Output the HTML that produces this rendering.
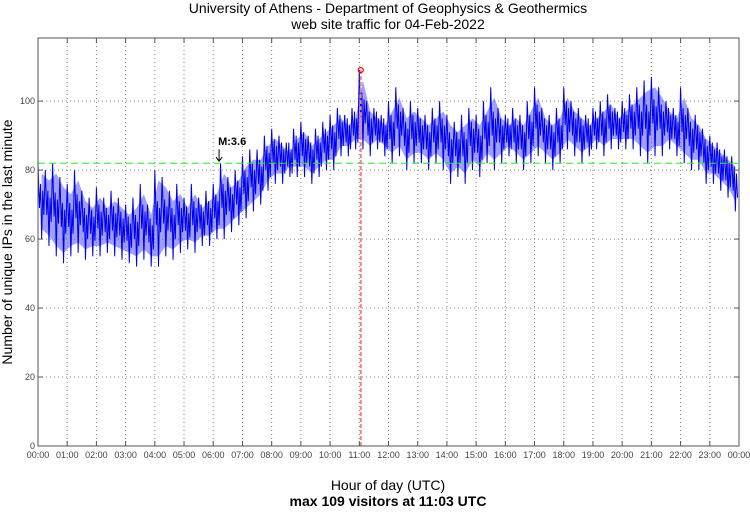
<!DOCTYPE html>
<html><head><meta charset="utf-8"><style>
body{margin:0;background:#fff;}
svg text{font-family:"Liberation Sans",sans-serif;}
</style></head><body>
<svg id="chart" width="750" height="511" xmlns="http://www.w3.org/2000/svg">
<text x="388" y="13" font-size="14" text-anchor="middle">University of Athens - Department of Geophysics &amp; Geothermics</text>
<text x="388" y="29" font-size="14" text-anchor="middle">web site traffic for 04-Feb-2022</text>
<text x="388" y="490" font-size="14" text-anchor="middle">Hour of day (UTC)</text>
<text x="388" y="506" font-size="14" font-weight="bold" text-anchor="middle">max 109 visitors at 11:03 UTC</text>
<text transform="translate(12,242) rotate(-90)" font-size="14" text-anchor="middle">Number of unique IPs in the last minute</text>
<g id="grid"></g>
<g id="series"></g>
<rect x="38" y="38" width="701" height="408" fill="none" stroke="#555" stroke-width="1"/>
<g id="axes"></g>
</svg>
<script>
const yTicks=[0,20,40,60,80,100];
const xTickLabels=["00:00","01:00","02:00","03:00","04:00","05:00","06:00","07:00","08:00","09:00","10:00","11:00","12:00","13:00","14:00","15:00","16:00","17:00","18:00","19:00","20:00","21:00","22:00","23:00","00:00"];
const highs=[82,80,82,78, 76,80,74,72, 75,72,74,72, 70,72,76,70, 80,78,74,76, 72,76,72,74, 76,82,78,80, 84,86,86,90, 92,90,88,92, 94,90,92,94, 96,98,96,98, 109,100,98,96, 100,104,98,100, 98,96,98,100, 96,94,96,98, 96,100,104,98, 96,98,96,100, 104,98,96,98, 104,100,98,96, 98,100,102,98, 100,102,104,106, 107,104,100,98, 104,98,96,92, 90,88,86,84];
const lows=[60,58,55,53, 55,56,54,55, 55,56,55,54, 53,52,54,52, 52,55,54,56, 57,56,58,58, 60,60,62,64, 66,68,70,74, 76,76,78,78, 78,76,78,80, 80,84,84,86, 86,84,86,84, 82,84,80,82, 82,80,82,80, 76,78,76,80, 78,82,80,82, 84,82,80,82, 84,82,80,82, 86,84,82,84, 86,84,86,86, 86,86,84,82, 84,84,86,84, 82,80,80,76, 76,74,72,68];
const avgLine=82;
const maxValue=109, maxHour=11+3/60;
const markerHour=6.2, markerLabel="M:3.6";

const X0=38,X1=739,Y0=446,Ymax=118.3;
const xs=h=>X0+(X1-X0)*h/24;
const ys=v=>Y0-(Y0-38)*v/Ymax;
const NS="http://www.w3.org/2000/svg";
function mk(tag,attrs,parent){const e=document.createElementNS(NS,tag);for(const k in attrs)e.setAttribute(k,attrs[k]);parent.appendChild(e);return e;}
const grid=document.getElementById('grid'),axes=document.getElementById('axes'),series=document.getElementById('series');
yTicks.forEach(v=>{
  if(v>0){const g=mk('line',{x1:X0,x2:X1,y1:ys(v),y2:ys(v),stroke:'#888','stroke-dasharray':'1,3'},grid);
  
  }
  const t=mk('text',{x:X0-3,y:ys(v)+3,'font-size':9,'text-anchor':'end',fill:'#444'},axes);t.textContent=v;
  
  
  mk('line',{x1:X0,x2:X0+5,y1:ys(v),y2:ys(v),stroke:'#555'},axes);
  mk('line',{x1:X1-5,x2:X1,y1:ys(v),y2:ys(v),stroke:'#555'},axes);
});
xTickLabels.forEach((l,i)=>{
  const x=xs(i);
  if(i>0&&i<24){const g=mk('line',{x1:x,x2:x,y1:38,y2:Y0,stroke:'#888','stroke-dasharray':'1,3'},grid);
  
  }
  mk('line',{x1:x,x2:x,y1:Y0-5,y2:Y0,stroke:'#555'},axes);
  mk('line',{x1:x,x2:x,y1:38,y2:43,stroke:'#555'},axes);
  const t=mk('text',{x:x,y:458,'font-size':9,'text-anchor':'middle',fill:'#444'},axes);t.textContent=l;
  
  
});
const n=highs.length,step=24/n;
let band=[],zig=[];
for(let i=0;i<n;i++){band.push(xs((i+0.5)*step)+','+ys(highs[i]-3));}
for(let i=n-1;i>=0;i--){band.push(xs((i+0.5)*step)+','+ys(lows[i]+3));}
const bp=mk('polygon',{points:band.join(' '),fill:'#5050ff','fill-opacity':0.55},series);


for(let i=0;i<n;i++){
  const H=highs[i],L=lows[i],M=(H+L)/2;
  zig.push(xs(i*step)+','+ys(H));zig.push(xs((i+0.2)*step)+','+ys(M-2));
  zig.push(xs((i+0.35)*step)+','+ys(M+5));zig.push(xs((i+0.5)*step)+','+ys(L));
  zig.push(xs((i+0.65)*step)+','+ys(M+3));zig.push(xs((i+0.8)*step)+','+ys(M-4));
}
const zl=mk('polyline',{points:zig.join(' '),fill:'none',stroke:'#0000ee','stroke-width':1},series);


const al=mk('line',{x1:X0,x2:X1,y1:ys(avgLine),y2:ys(avgLine),stroke:'#22ee22','stroke-dasharray':'7,4','stroke-width':1},series);


const ml=mk('line',{x1:xs(maxHour),x2:xs(maxHour),y1:ys(maxValue),y2:Y0,stroke:'#f08080','stroke-dasharray':'4,2','stroke-width':2},series);


const mc=mk('circle',{cx:xs(maxHour),cy:ys(maxValue),r:2.5,fill:'none',stroke:'#e00','stroke-width':1.2},series);


const qx=xs(markerHour),qy=ys(avgLine)-2;
const qa=mk('path',{d:`M${qx},${qy-12} L${qx},${qy} M${qx-3},${qy-4} L${qx},${qy} L${qx+3},${qy-4}`,stroke:'#000',fill:'none'},series);


const qt=mk('text',{x:qx-1,y:qy-16,'font-size':11,'font-weight':'bold'},series);qt.textContent=markerLabel;


</script>
</body></html>
